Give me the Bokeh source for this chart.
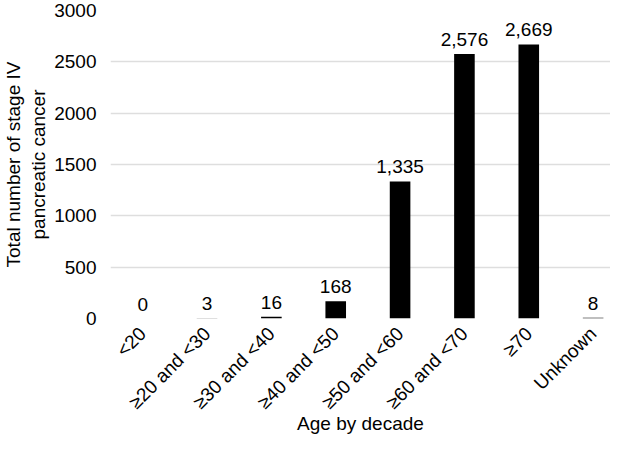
from bokeh.plotting import figure
from bokeh.models import Range1d, FixedTicker, ColumnDataSource
from bokeh.core.properties import value
from bokeh.embed import file_html
from bokeh.resources import INLINE

categories = ["<20", "≥20 and <30", "≥30 and <40", "≥40 and <50",
              "≥50 and <60", "≥60 and <70", "≥70", "Unknown"]
counts = [0, 3, 16, 168, 1335, 2576, 2669, 8]
y_ticks = [0, 500, 1000, 1500, 2000, 2500, 3000]
x_title = "Age by decade"
y_title = "Total number of stage IV\npancreatic cancer"

FONT = "Liberation Sans"
FS = "19px"

xs = list(range(len(categories)))
src = ColumnDataSource(dict(x=xs, top=counts, label=[f"{v:,}" for v in counts]))

p = figure(width=610, height=437, output_backend="svg", toolbar_location=None,
           x_range=Range1d(-0.5, 7.27), y_range=Range1d(0, 3000),
           min_border_left=96, min_border_right=0, min_border_top=10,
           min_border_bottom=100)
p.outline_line_color = None
p.background_fill_color = "white"

p.vbar(x="x", top="top", width=0.32, bottom=0, source=src,
       fill_color="black", line_color=None)
p.text(x="x", y="top", text="label", source=src, text_align="center",
       text_baseline="bottom", y_offset=-8, text_font=value(FONT),
       text_font_size=FS, text_color="black")

p.xaxis.ticker = FixedTicker(ticks=xs)
p.xaxis.major_label_overrides = {i: c for i, c in enumerate(categories)}
p.xaxis.major_label_orientation = 0.7854
p.yaxis.ticker = FixedTicker(ticks=y_ticks)

for ax in (p.xaxis[0], p.yaxis[0]):
    ax.axis_line_color = None
    ax.major_tick_line_color = None
    ax.minor_tick_line_color = None
    ax.major_label_text_font = FONT
    ax.major_label_text_font_size = FS
    ax.major_label_text_color = "black"
    ax.axis_label_text_font = FONT
    ax.axis_label_text_font_size = FS
    ax.axis_label_text_font_style = "normal"
    ax.axis_label_text_color = "black"
    ax.major_label_standoff = 8

p.xaxis.major_label_standoff = 6
p.xaxis.axis_label = x_title
p.xaxis.axis_label_standoff = -10
p.yaxis.axis_label = y_title
p.yaxis.axis_label_standoff = 2

p.xgrid.grid_line_color = None
p.ygrid.grid_line_color = "#dedede"
p.ygrid.grid_line_width = 1.5

open("out.html", "w").write(file_html(p, INLINE))
